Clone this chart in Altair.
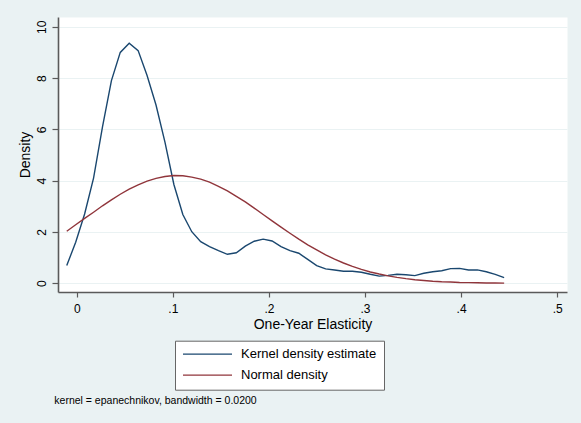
import altair as alt
import pandas as pd

# Evaluation grid shared by both density curves
grid_x = [
    -0.0104, -0.0011, 0.0082, 0.0175, 0.0268, 0.0361, 0.0453, 0.0546, 0.0639, 0.0732,
    0.0825, 0.0918, 0.1011, 0.1104, 0.1197, 0.1290, 0.1382, 0.1475, 0.1568, 0.1661,
    0.1754, 0.1847, 0.1940, 0.2033, 0.2126, 0.2219, 0.2311, 0.2404, 0.2497, 0.2590,
    0.2683, 0.2776, 0.2869, 0.2962, 0.3055, 0.3148, 0.3240, 0.3333, 0.3426, 0.3519,
    0.3612, 0.3705, 0.3798, 0.3891, 0.3984, 0.4077, 0.4169, 0.4262, 0.4355, 0.4448,
]

# Epanechnikov kernel density estimate
kernel_density = [
    0.69, 1.60, 2.70, 4.10, 6.10, 7.90, 9.00, 9.36, 9.07, 8.10,
    6.95, 5.50, 3.85, 2.68, 2.01, 1.62, 1.43, 1.27, 1.13, 1.19,
    1.45, 1.64, 1.72, 1.65, 1.43, 1.27, 1.17, 0.93, 0.69, 0.56,
    0.52, 0.47, 0.47, 0.43, 0.35, 0.28, 0.31, 0.35, 0.33, 0.30,
    0.39, 0.45, 0.49, 0.57, 0.58, 0.52, 0.52, 0.45, 0.35, 0.22,
]

# Normal density with the sample mean and standard deviation
normal_density = [
    2.03, 2.28, 2.53, 2.77, 3.02, 3.25, 3.47, 3.67, 3.84, 3.98,
    4.09, 4.16, 4.20, 4.19, 4.14, 4.06, 3.94, 3.78, 3.60, 3.39,
    3.17, 2.93, 2.68, 2.43, 2.19, 1.95, 1.72, 1.50, 1.30, 1.11,
    0.94, 0.79, 0.66, 0.54, 0.44, 0.36, 0.29, 0.23, 0.18, 0.14,
    0.11, 0.08, 0.06, 0.05, 0.03, 0.025, 0.018, 0.013, 0.010, 0.007,
]

series_names = ["Kernel density estimate", "Normal density"]
series_colors = ["#1A476F", "#90353B"]
x_ticks = [0, 0.1, 0.2, 0.3, 0.4, 0.5]
y_ticks = [0, 2, 4, 6, 8, 10]
note_text = "kernel = epanechnikov, bandwidth = 0.0200"

FONT = "Liberation Sans"
BG = "#EAF2F3"
AXIS_GRAY = "#5a5a5a"

df = pd.DataFrame({
    "x": grid_x + grid_x,
    "density": kernel_density + normal_density,
    "series": [series_names[0]] * len(grid_x) + [series_names[1]] * len(grid_x),
})

lines = alt.Chart(df).mark_line(strokeWidth=1.4).encode(
    x=alt.X(
        "x:Q",
        scale=alt.Scale(domain=[-0.0195, 0.5102], nice=False, zero=False),
        axis=alt.Axis(
            values=x_ticks,
            labelExpr="datum.value == 0 ? '0' : replace(format(datum.value, '.1f'), '0.', '.')",
            title="One-Year Elasticity",
            grid=False,
            tickSize=5,
            labelPadding=6,
            titleX=254.5,
            titleY=36.3,
            titleAlign="center",
            titleBaseline="alphabetic",
        ),
    ),
    y=alt.Y(
        "density:Q",
        scale=alt.Scale(domain=[-0.34, 10.38], nice=False, zero=False),
        axis=alt.Axis(
            values=y_ticks,
            title="Density",
            grid=True,
            gridColor=BG,
            gridWidth=1,
            tickSize=6,
            labelAngle=270,
            labelAlign="center",
            labelBaseline="bottom",
            labelPadding=4,
            titleAngle=270,
            titleAlign="center",
            titleBaseline="bottom",
            titleX=-25.5,
            titleY=137.5,
        ),
    ),
    color=alt.Color(
        "series:N",
        scale=alt.Scale(domain=series_names, range=series_colors),
        legend=alt.Legend(
            title=None,
            orient="none",
            legendX=117,
            legendY=323.7,
            symbolType="stroke",
            symbolSize=2401,
            symbolStrokeWidth=1.3,
            clipHeight=13,
            labelFont=FONT,
            labelFontSize=13,
            labelColor="black",
            labelOffset=8,
            padding=7,
            rowPadding=7,
            fillColor="white",
            strokeColor="#666666",
        ),
    ),
)

note = alt.Chart(pd.DataFrame({"note": [note_text]})).mark_text(
    align="left", baseline="middle", font=FONT, fontSize=10.5, color="black"
).encode(
    text="note:N",
    x=alt.value(-3.7),
    y=alt.value(384),
)

chart = (
    alt.layer(lines, note)
    .properties(
        width=509,
        height=275,
        padding={"left": 58, "top": 17, "right": 14, "bottom": 131},
        autosize=alt.AutoSizeParams(type="none"),
        background=BG,
    )
    .configure_view(fill="white", strokeOpacity=0)
    .configure_axis(
        domainColor=AXIS_GRAY,
        domainWidth=1.6,
        tickColor=AXIS_GRAY,
        tickWidth=1.2,
        labelFont=FONT,
        labelFontSize=12,
        labelColor="black",
        titleFont=FONT,
        titleFontSize=14,
        titleFontWeight="normal",
        titleColor="black",
    )
)

chart.save("out.html", embed_options={"renderer": "svg", "actions": False})
